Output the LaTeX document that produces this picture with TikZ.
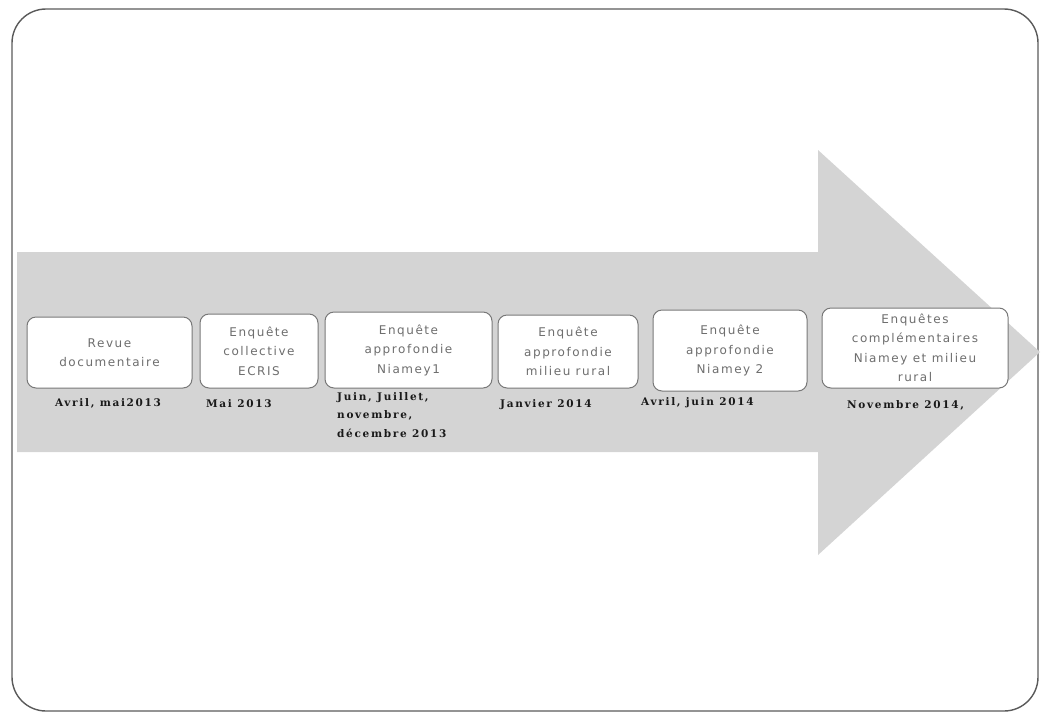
\documentclass[tikz,border=0pt]{standalone}
\usepackage{fontspec}
\newfontfamily\boxfont[LetterSpace=13]{DejaVu Sans}
\newfontfamily\datefont[LetterSpace=16]{DejaVu Serif}
\definecolor{bandgray}{RGB}{212,212,212}
\definecolor{framegray}{RGB}{90,90,90}
\definecolor{boxedge}{RGB}{120,120,120}
\definecolor{boxtext}{RGB}{110,110,110}
\definecolor{datetext}{RGB}{25,25,25}
\tikzset{
  stage/.style={draw=boxedge, line width=1pt, fill=white, rounded corners=9pt,
    align=center, inner sep=0pt, font=\boxfont\fontsize{12}{19.5}\selectfont,
    text=boxtext},
  when/.style={font=\datefont\bfseries\fontsize{10.5}{18.5}\selectfont, text=datetext,
    inner sep=0pt, align=left}
}
\begin{document}
\begin{tikzpicture}[x=1pt,y=-1pt]
\useasboundingbox (0,0) rectangle (1044,713);
% outer frame
\draw[framegray, line width=1.4pt, rounded corners=34pt] (12,9) rectangle (1038,711);
% big timeline arrow
\fill[bandgray] (17,252) -- (818,252) -- (818,150) -- (1040,352)
  -- (818,555) -- (818,452) -- (17,452) -- cycle;
% stages
\node[stage, minimum width=165pt, minimum height=71pt] (s1) at (109.5,352.5)
  {Revue\\documentaire};
\node[stage, minimum width=118pt, minimum height=74pt] (s2) at (259,351)
  {Enquête\\collective\\ECRIS};
\node[stage, minimum width=167pt, minimum height=76pt] (s3) at (408.5,350)
  {Enquête\\approfondie\\Niamey1};
\node[stage, minimum width=140pt, minimum height=73pt] (s4) at (568,351.5)
  {Enquête\\approfondie\\milieu rural};
\node[stage, minimum width=154pt, minimum height=81pt] (s5) at (730,350.5)
  {Enquête\\approfondie\\Niamey 2};
\node[stage, minimum width=186pt, minimum height=80pt] (s6) at (915,348)
  {Enquêtes\\complémentaires\\Niamey et milieu\\rural};
% dates
\node[when] (d1) at (108,403) {Avril, mai2013};
\node[when, anchor=west] (d2) at (206,404) {Mai 2013};
\node[when, anchor=north west] (d3) at (337,392) {Juin, Juillet,\\novembre,\\décembre 2013};
\node[when, anchor=west] (d4) at (500,405) {Janvier 2014};
\node[when, anchor=west] (d5) at (641,403) {Avril, juin 2014};
\node[when, anchor=west] (d6) at (847,405) {Novembre 2014,};
\end{tikzpicture}
\end{document}
